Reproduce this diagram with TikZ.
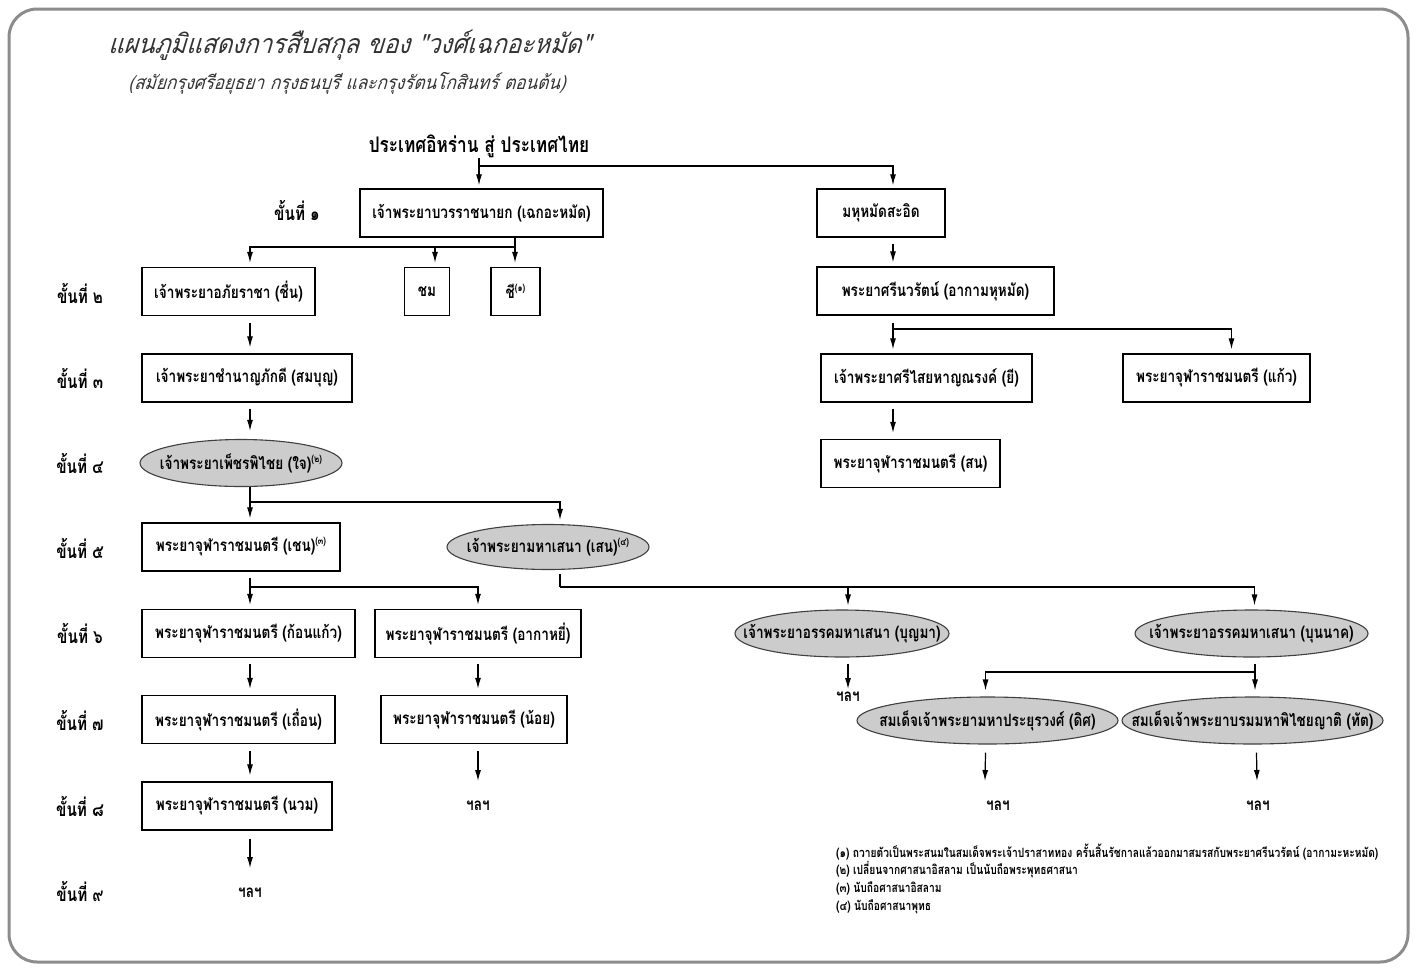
\documentclass[tikz,border=0pt]{standalone}
\usepackage{fontspec}
\usetikzlibrary{arrows.meta,shapes.geometric,calc}
\newfontfamily\thai[Script=Thai,FakeStretch=0.8]{Loma}
\newfontfamily\thaititle[Script=Thai,FakeSlant=0.3,FakeStretch=0.9]{Loma}
\newcommand{\fnum}[1]{\raisebox{0.8ex}{\fontsize{10}{10}\selectfont(#1)}}
\newcommand{\ovtext}[1]{\makebox[0pt]{#1}}

\tikzset{
  box/.style={draw, line width=1.3pt, minimum height=48pt, inner sep=0pt,
    font=\thai\bfseries\fontsize{17}{19}\selectfont},
  oval/.style={ellipse, draw=black!75, fill=black!20, line width=1.1pt,
    minimum height=47pt, inner sep=0pt, font=\thai\bfseries\fontsize{17}{19}\selectfont},
  plain/.style={inner sep=0pt, font=\thai\bfseries\fontsize{17}{19}\selectfont},
  lvl/.style={inner sep=0pt, font=\thai\bfseries\fontsize{19}{21}\selectfont},
  note/.style={anchor=west, inner sep=0pt, font=\thai\bfseries\fontsize{12.8}{14}\selectfont},
  arr/.style={-{Latex[length=11pt,width=6pt]}, line width=1.2pt},
  link/.style={line width=1.2pt},
}

\begin{document}
\begin{tikzpicture}[x=1pt,y=-1pt]
\useasboundingbox (0,0) rectangle (1417,970);
\draw[black!45, line width=3pt, rounded corners=28pt] (9,9) rectangle (1408,962);

% titles
\node[inner sep=0pt, text=black!80, font=\thaititle\fontsize{26.8}{30}\selectfont] (title) at (349,45)
  {แผนภูมิแสดงการสืบสกุล ของ "วงศ์เฉกอะหมัด"};
\node[inner sep=0pt, text=black!80, font=\thaititle\fontsize{19}{22}\selectfont] (subtitle) at (347,83)
  {(สมัยกรุงศรีอยุธยา กรุงธนบุรี และกรุงรัตนโกสินทร์ ตอนต้น)};
\node[inner sep=0pt, font=\thai\bfseries\fontsize{21.5}{24}\selectfont] (origin) at (479,146)
  {ประเทศอิหร่าน สู่ ประเทศไทย};

% levels
\node[lvl] (s1) at (297,210) {ขั้นที่ ๑};
\foreach \n/\y/\d in {2/293/๒,3/378/๓,4/463/๔,5/548/๕,6/633/๖,7/720/๗,8/806/๘,9/891/๙}
  \node[lvl] (s\n) at (80,\y) {ขั้นที่ \d};

% columns
\coordinate (colL) at (250,0);
\coordinate (colM) at (478,0);
\coordinate (colR) at (893,0);

% people
\node[box, minimum width=243pt] (chek) at (481.5,213) {เจ้าพระยาบวรราชนายก (เฉกอะหมัด)};
\node[box, minimum width=128pt] (saeid) at (881,213) {มหุหมัดสะอิด};

\node[box, minimum width=173pt] (chuen) at (228.5,291.5) {เจ้าพระยาอภัยราชา (ชื่น)};
\node[box, minimum width=45pt] (chom) at (427,291.5) {ชม};
\node[box, minimum width=49pt] (chi) at (515.5,291.5) {ชี\fnum{๑}};
\node[box, minimum width=237pt] (aka) at (935.5,291) {พระยาศรีนวรัตน์ (อากามหุหมัด)};

\node[box, minimum width=210pt] (sombun) at (247,378) {เจ้าพระยาชำนาญภักดี (สมบุญ)};
\node[box, minimum width=211pt] (yi) at (926.5,378) {เจ้าพระยาศรีไสยหาญณรงค์ (ยี)};
\node[box, minimum width=187pt] (kaeo) at (1216.5,378) {พระยาจุฬาราชมนตรี (แก้ว)};

\node[oval, minimum width=202pt] (chai) at (241,463) {\ovtext{เจ้าพระยาเพ็ชรพิไชย (ใจ)\fnum{๒}}};
\node[box, minimum width=179pt] (son) at (910.5,463.5) {พระยาจุฬาราชมนตรี (สน)};

\node[box, minimum width=198pt] (chen) at (241,547) {พระยาจุฬาราชมนตรี (เชน)\fnum{๓}};
\node[oval, minimum width=202pt, minimum height=45pt] (sen) at (548,547) {\ovtext{เจ้าพระยามหาเสนา (เสน)\fnum{๔}}};

\node[box, minimum width=213pt] (konkaeo) at (248.5,633.5) {พระยาจุฬาราชมนตรี (ก้อนแก้ว)};
\node[box, minimum width=206pt] (akayi) at (478,633.5) {พระยาจุฬาราชมนตรี (อากาหยี่)};
\node[oval, minimum width=214pt] (bunma) at (842,633.5) {\ovtext{เจ้าพระยาอรรคมหาเสนา (บุญมา)}};
\node[oval, minimum width=233pt] (bunnak) at (1251.5,633.5) {\ovtext{เจ้าพระยาอรรคมหาเสนา (บุนนาค)}};

\node[box, minimum width=193pt] (thuean) at (238.5,719.5) {พระยาจุฬาราชมนตรี (เถื่อน)};
\node[box, minimum width=186pt] (noi) at (474,719.5) {พระยาจุฬาราชมนตรี (น้อย)};
\node[plain] (etc1) at (848,697) {ฯลฯ};
\node[oval, minimum width=261pt] (dit) at (987.5,720.5) {\ovtext{สมเด็จเจ้าพระยามหาประยุรวงศ์ (ดิศ)}};
\node[oval, minimum width=261pt] (that) at (1252.5,720.5) {\ovtext{สมเด็จเจ้าพระยาบรมมหาพิไชยญาติ (ทัต)}};

\node[box, minimum width=190pt] (nuam) at (237,806) {พระยาจุฬาราชมนตรี (นวม)};
\node[plain] (etc2) at (478,806) {ฯลฯ};
\node[plain] (etc3) at (998,806) {ฯลฯ};
\node[plain] (etc4) at (1258,806) {ฯลฯ};
\node[plain] (etc5) at (250,893) {ฯลฯ};

% origin
\coordinate (j0) at (479,166);
\draw[arr] (origin.south) -- ($(chek.north -| origin.south)+(0,-3)$);
\draw[arr] (j0) -| ($(saeid.north -| colR)+(0,-3)$);

% generation 1 -> 2
\coordinate (j1) at (515,247);
\draw[link] (chek.south -| j1) -- (j1);
\draw[arr] (j1) -| ($(chuen.north -| colL)+(0,-4)$);
\draw[arr] (j1) -| ($(chom.north)+(8,-4)$);
\draw[arr] (j1) -- ($(chi.north -| j1)+(0,-4)$);
\draw[arr] ($(saeid.south -| colR)+(0,6)$) -- ($(aka.north -| colR)+(0,-4)$);

% generation 2 -> 3
\draw[arr] ($(chuen.south -| colL)+(0,7)$) -- ($(sombun.north -| colL)+(0,-6)$);
\coordinate (j2) at (893,329);
\draw[link] ($(aka.south -| j2)+(0,7)$) -- (j2);
\draw[arr] (j2) -- ($(yi.north -| j2)+(0,-4)$);
\draw[arr] (j2) -| ($(kaeo.north)+(15,-4)$);

% generation 3 -> 4
\draw[arr] ($(sombun.south -| colL)+(0,6)$) -- ($(chai.north -| colL)+(0,-8)$);
\draw[arr] ($(yi.south -| colR)+(0,6)$) -- ($(son.north -| colR)+(0,-6)$);

% generation 4 -> 5
\coordinate (j4) at (250,502);
\draw[link] (chai.south -| j4) -- (j4);
\draw[arr] (j4) -- ($(chen.north -| j4)+(0,-4)$);
\draw[arr] (j4) -| ($(sen.north)+(12,-4)$);

% generation 5 -> 6
\coordinate (j5) at (250,587);
\coordinate (j6) at (560,587);
\draw[link] ($(chen.south -| j5)+(0,6)$) -- (j5);
\draw[arr] (j5) -- ($(konkaeo.north -| j5)+(0,-4)$);
\draw[arr] (j5) -| ($(akayi.north -| colM)+(0,-4)$);
\draw[link] ($(sen.south -| j6)+(0,4)$) -- (j6);
\draw[arr] (j6) -| ($(bunma.north)+(6,-4)$);
\draw[arr] (j6) -| ($(bunnak.north)+(3,-4)$);

% generation 6 -> 7
\draw[arr] ($(konkaeo.south -| colL)+(0,6)$) -- ($(thuean.north -| colL)+(0,-6)$);
\draw[arr] ($(akayi.south -| colM)+(0,6)$) -- ($(noi.north -| colM)+(0,-6)$);
\draw[arr] ($(bunma.south)+(6,6)$) -- ($(etc1.north)+(0,-3)$);
\coordinate (j7) at (1255,672);
\draw[link] ($(bunnak.south -| j7)+(0,6)$) -- (j7);
\draw[arr] (j7) -| ($(dit.north)+(-2,-6)$);
\draw[arr] (j7) -- ($(that.north -| j7)+(0,-6)$);

% generation 7 -> 8 -> 9
\draw[arr] ($(thuean.south -| colL)+(0,7)$) -- ($(nuam.north -| colL)+(0,-6)$);
\draw[arr] ($(noi.south -| colM)+(0,7)$) -- ($(etc2.north -| colM)+(0,-20)$);
\draw[arr] ($(dit.south)+(-2,8)$) -- ($(etc3.north)+(-13,-20)$);
\draw[arr] ($(that.south)+(4,8)$) -- ($(etc4.north)+(-1,-20)$);
\draw[arr] ($(nuam.south -| colL)+(0,8)$) -- ($(etc5.north -| colL)+(0,-20)$);

% notes
\node[note] (n1) at (836,852) {(๑) ถวายตัวเป็นพระสนมในสมเด็จพระเจ้าปราสาททอง ครั้นสิ้นรัชกาลแล้วออกมาสมรสกับพระยาศรีนวรัตน์ (อากามะหะหมัด)};
\node[note] (n2) at (836,870) {(๒) เปลี่ยนจากศาสนาอิสลาม เป็นนับถือพระพุทธศาสนา};
\node[note] (n3) at (836,888) {(๓) นับถือศาสนาอิสลาม};
\node[note] (n4) at (836,907) {(๔) นับถือศาสนาพุทธ};
\end{tikzpicture}
\end{document}
